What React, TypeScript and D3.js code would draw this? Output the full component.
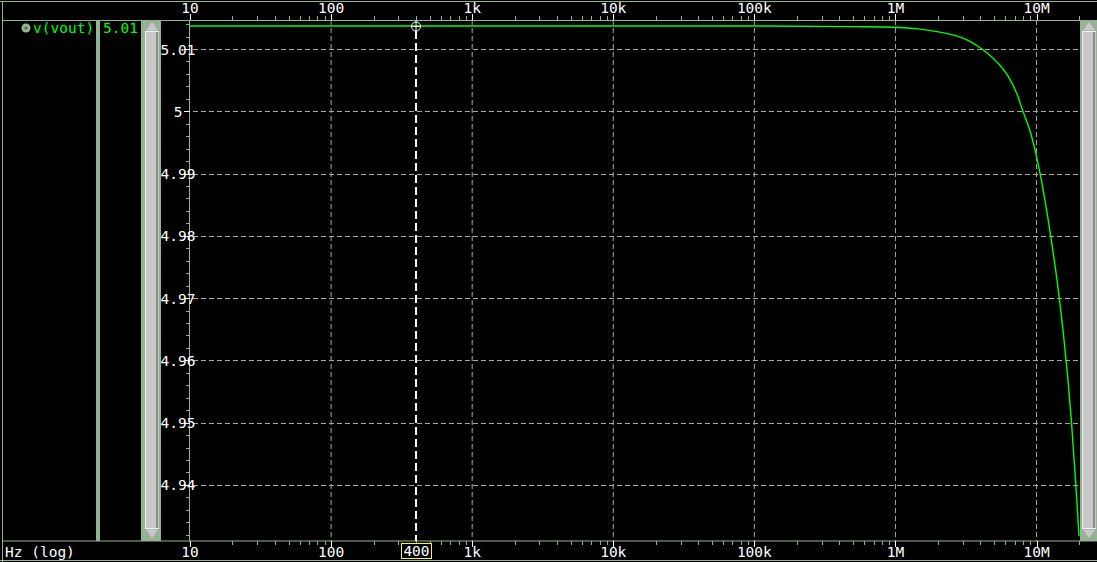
import React from "react";
import { scaleLog, scaleLinear, line, curveMonotoneX } from "d3";

// AC sweep (Hz, volts)
const freqs = [
  10, 100, 1e3, 1e4, 1e5, 5e5, 1e6, 1.5e6, 1.97e6, 2.88e6, 3.39e6, 4.1e6,
  5.24e6, 6.3e6, 7.26e6, 8.01e6, 9.12e6, 10.6e6, 12.6e6, 14.5e6, 16.2e6,
  17.7e6, 19.0e6, 20e6,
];
const vout = [
  5.0137, 5.0137, 5.0137, 5.0137, 5.0137, 5.0136, 5.0135, 5.0132, 5.0128,
  5.0119, 5.0112, 5.01, 5.0079, 5.0056, 5.0028, 5.0, 4.9964, 4.99, 4.98,
  4.97, 4.96, 4.95, 4.94, 4.9318,
];

const xTickValues = [10, 100, 1e3, 1e4, 1e5, 1e6, 1e7];
const xTickLabels = ["10", "100", "1k", "10k", "100k", "1M", "10M"];
const yTickValues = [5.01, 5.0, 4.99, 4.98, 4.97, 4.96, 4.95, 4.94];
const yTickLabels = ["5.01", "5", "4.99", "4.98", "4.97", "4.96", "4.95", "4.94"];

const traceName = "v(vout)";
const cursorFreq = 400;
const cursorLabel = "400";
const cursorValue = "5.01";
const xAxisName = "Hz (log)";

const W = 1097;
const H = 562;
const plot = { left: 190, right: 1079, top: 20, bottom: 541 };
const frame = "#93b493";
const gridColor = "#a8a8a8";
const font = "'DejaVu Sans Mono', monospace";
const fs = 14.5;

const x = scaleLog().domain([10, 20e6]).range([plot.left, plot.right]);
const y = scaleLinear().domain([4.931, 5.01466]).range([plot.bottom, plot.top]);

const minorX: number[] = [];
for (let d = 10; d < 20e6; d *= 10) {
  for (let m = 2; m <= 9; m++) if (d * m <= 20e6) minorX.push(d * m);
}
const minorY: number[] = [];
for (let v = 4.932; v <= 5.0146; v += 0.002) {
  if (!yTickValues.some((t) => Math.abs(t - v) < 1e-6)) minorY.push(v);
}

const Scrollbar = ({ x0 }: { x0: number }) => {
  const w = 14;
  const cx = x0 + w / 2;
  return (
    <g>
      <rect x={x0 - 2} y={plot.top + 1} width={w + 4} height={plot.bottom - plot.top - 1} fill={frame} />
      <rect x={x0} y={30} width={w} height={500} fill="#c8c8c8" />
      <rect x={x0 + w - 3} y={30} width={2} height={500} fill="#8c8c8c" />
      <line x1={x0 + 0.5} x2={x0 + 0.5} y1={30} y2={530} stroke="#f0f0f0" />
      <path d={`M${x0},31 L${cx},21 L${x0 + w},31 Z`} fill="#c8c8c8" stroke="#a0a0a0" />
      <line x1={x0} x2={x0 + w} y1={31.5} y2={31.5} stroke="#f0f0f0" />
      <path d={`M${x0},529 L${cx},539 L${x0 + w},529 Z`} fill="#c8c8c8" stroke="#a0a0a0" />
      <line x1={x0} x2={x0 + w} y1={528.5} y2={528.5} stroke="#f0f0f0" />
    </g>
  );
};

export default function App() {
  const pts = freqs.map((f, i) => [f, vout[i]] as [number, number]);
  const path = line<[number, number]>()
    .x((d) => x(d[0]))
    .y((d) => y(d[1]))
    .curve(curveMonotoneX)(pts);

  const cx = x(cursorFreq);

  return (
    <svg
      width={W}
      height={H}
      style={{ position: "fixed", left: 0, top: 0, background: "#000" }}
      fontFamily={font}
      fontSize={fs}
    >
      <rect width={W} height={H} fill="#000" />

      {/* frame */}
      <line x1={0} x2={W} y1={1.5} y2={1.5} stroke={frame} />
      <line x1={2} x2={W} y1={20.5} y2={20.5} stroke={frame} />
      <line x1={2} x2={W} y1={541} y2={541} stroke={frame} />
      <line x1={0} x2={W} y1={560.5} y2={560.5} stroke={frame} />
      <line x1={2.5} x2={2.5} y1={1} y2={562} stroke={frame} />
      <rect x={96} y={21} width={4} height={520} fill={frame} />
      <rect x={141} y={21} width={3} height={520} fill={frame} />

      {/* grid */}
      {xTickValues.slice(1).map((v) => (
        <line key={"gx" + v} x1={x(v)} x2={x(v)} y1={plot.top} y2={plot.bottom}
          stroke={gridColor} strokeDasharray="5,3" />
      ))}
      {yTickValues.map((v) => (
        <line key={"gy" + v} x1={plot.left + 3} x2={plot.right} y1={Math.round(y(v)) + 0.5}
          y2={Math.round(y(v)) + 0.5} stroke={gridColor} strokeDasharray="5,3" />
      ))}

      {/* y axis */}
      <line x1={189.5} x2={189.5} y1={plot.top} y2={plot.bottom} stroke={frame} />
      {minorY.map((v) => (
        <line key={"my" + v} x1={186} x2={189} y1={Math.round(y(v)) + 0.5} y2={Math.round(y(v)) + 0.5} stroke={frame} />
      ))}
      {yTickValues.map((v, i) => (
        <g key={"ty" + v}>
          <line x1={184} x2={190} y1={Math.round(y(v)) + 0.5} y2={Math.round(y(v)) + 0.5} stroke="#fff" />
          <text x={178} y={y(v) + 5.5} fill="#fff" textAnchor="middle">{yTickLabels[i]}</text>
        </g>
      ))}

      {/* x axes, top and bottom */}
      {minorX.map((v) => (
        <g key={"mx" + v}>
          <line x1={Math.round(x(v)) + 0.5} x2={Math.round(x(v)) + 0.5} y1={16} y2={20} stroke={frame} />
          <line x1={Math.round(x(v)) + 0.5} x2={Math.round(x(v)) + 0.5} y1={541} y2={545} stroke={frame} />
        </g>
      ))}
      {xTickValues.map((v, i) => (
        <g key={"tx" + v}>
          <line x1={Math.round(x(v)) + 0.5} x2={Math.round(x(v)) + 0.5} y1={14} y2={20} stroke="#fff" />
          <line x1={Math.round(x(v)) + 0.5} x2={Math.round(x(v)) + 0.5} y1={541} y2={547} stroke="#fff" />
          <text x={x(v)} y={13} fill="#fff" textAnchor="middle">{xTickLabels[i]}</text>
          <text x={x(v)} y={557} fill="#fff" textAnchor="middle">{xTickLabels[i]}</text>
        </g>
      ))}
      <text x={5} y={557} fill="#fff">{xAxisName}</text>

      {/* trace */}
      <path d={path ?? ""} fill="none" stroke="#00ff00" strokeWidth={1.4} />

      {/* cursor */}
      <line x1={cx} x2={cx} y1={31} y2={plot.bottom} stroke="#fff" strokeWidth={2} strokeDasharray="8,4" />
      <circle cx={cx} cy={26.5} r={4.5} fill="none" stroke="#fff" />
      <line x1={cx} x2={cx} y1={20} y2={33} stroke="#fff" />
      <line x1={cx - 5} x2={cx + 5} y1={26.5} y2={26.5} stroke="#fff" />
      <rect x={401.5} y={543.5} width={30} height={15} fill="#000" stroke="#ffff00" />
      <text x={416.5} y={556} fill="#fff" textAnchor="middle">{cursorLabel}</text>

      {/* legend */}
      <circle cx={26} cy={28} r={4.5} fill={frame} />
      <circle cx={26} cy={28} r={1.6} fill="#4c6a4c" />
      <text x={33} y={33} fill="#00ff00">{traceName}</text>
      <text x={103} y={33} fill="#00ff00">{cursorValue}</text>

      <Scrollbar x0={145} />
      <Scrollbar x0={1082} />
    </svg>
  );
}
